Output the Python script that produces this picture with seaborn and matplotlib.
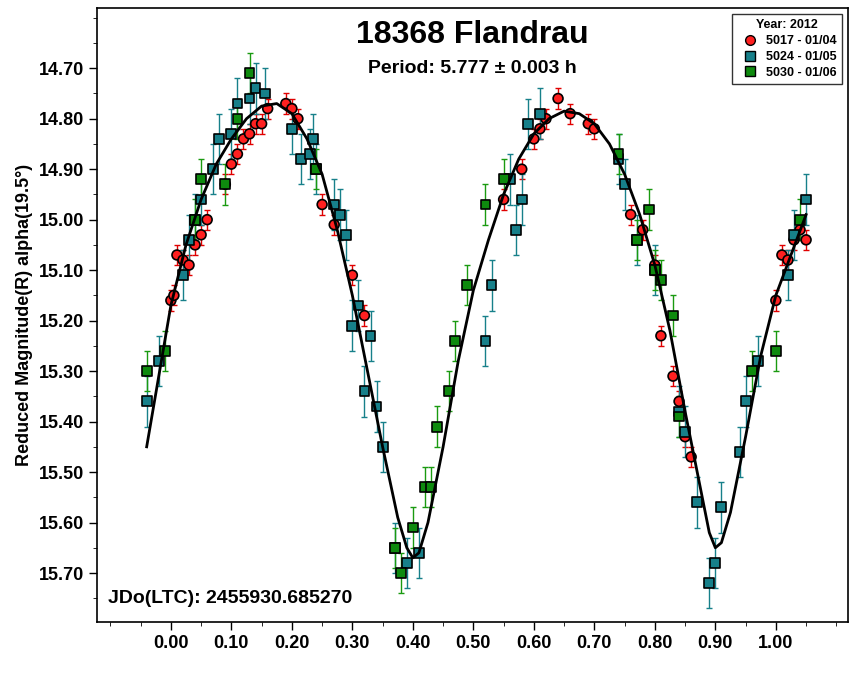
import numpy as np
import pandas as pd
import matplotlib
matplotlib.use("Agg")
import matplotlib.pyplot as plt
import seaborn as sns
from matplotlib.ticker import MultipleLocator
from matplotlib.lines import Line2D

fit_x = [-0.04,0.0,0.025,0.05,0.075,0.1,0.125,0.15,0.175,0.2,0.225,0.25,0.275,0.3,0.325,0.35,0.375,0.39,0.4,0.41,0.425,0.45,0.475,0.5,0.525,0.55,0.575,0.6,0.625,0.65,0.675,0.7,0.725,0.75,0.775,0.8,0.825,0.85,0.875,0.89,0.9,0.91,0.925,0.95,0.975,1.0,1.025,1.05]
fit_y = [15.45,15.17,15.05,14.96,14.89,14.84,14.80,14.775,14.77,14.79,14.84,14.91,15.02,15.15,15.30,15.45,15.59,15.65,15.67,15.66,15.60,15.45,15.28,15.14,15.04,14.95,14.88,14.83,14.80,14.785,14.79,14.81,14.85,14.91,14.99,15.09,15.22,15.38,15.53,15.62,15.65,15.64,15.58,15.43,15.27,15.15,15.07,14.99]

red_x = [0.0,0.005,0.01,0.02,0.03,0.04,0.05,0.06,0.09,0.1,0.11,0.12,0.13,0.14,0.15,0.16,0.19,0.2,0.21,0.25,0.27,0.3,0.32,0.55,0.58,0.6,0.61,0.62,0.64,0.66,0.69,0.7,0.76,0.78,0.8,0.81,0.83,0.84,0.85,0.86,1.0,1.01,1.02,1.03,1.04,1.05]
red_y = [15.16,15.15,15.07,15.08,15.09,15.05,15.03,15.0,14.93,14.89,14.87,14.84,14.83,14.81,14.81,14.78,14.77,14.78,14.8,14.97,15.01,15.11,15.19,14.96,14.9,14.84,14.82,14.8,14.76,14.79,14.81,14.82,14.99,15.02,15.09,15.23,15.31,15.36,15.43,15.47,15.16,15.07,15.08,15.04,15.02,15.04]
teal_x = [-0.04,-0.02,0.02,0.03,0.04,0.05,0.07,0.08,0.1,0.11,0.13,0.14,0.155,0.2,0.215,0.23,0.235,0.24,0.27,0.28,0.29,0.3,0.31,0.32,0.33,0.34,0.35,0.37,0.39,0.41,0.52,0.53,0.56,0.57,0.58,0.59,0.61,0.74,0.75,0.77,0.8,0.84,0.85,0.87,0.89,0.9,0.91,0.94,0.95,0.97,1.02,1.03,1.05]
teal_y = [15.36,15.28,15.11,15.04,15.0,14.96,14.9,14.84,14.83,14.77,14.76,14.74,14.75,14.82,14.88,14.87,14.84,14.9,14.97,14.99,15.03,15.21,15.17,15.34,15.23,15.37,15.45,15.65,15.68,15.66,15.24,15.13,14.92,15.02,14.96,14.81,14.79,14.88,14.93,15.04,15.1,15.38,15.42,15.56,15.72,15.68,15.57,15.46,15.36,15.28,15.11,15.03,14.96]
green_x = [-0.04,-0.01,0.04,0.05,0.09,0.11,0.13,0.24,0.37,0.38,0.4,0.42,0.43,0.44,0.46,0.47,0.49,0.52,0.55,0.74,0.77,0.79,0.8,0.81,0.83,0.84,0.96,1.0,1.04]
green_y = [15.3,15.26,15.0,14.92,14.93,14.8,14.71,14.9,15.65,15.7,15.61,15.53,15.53,15.41,15.34,15.24,15.13,14.97,14.92,14.87,15.04,14.98,15.1,15.12,15.19,15.39,15.3,15.26,15.0]
red_err, teal_err, green_err = 0.02, 0.05, 0.04
series_labels = ["5017 - 01/04", "5024 - 01/05", "5030 - 01/06"]

df = pd.concat([
    pd.DataFrame({"x": red_x, "y": red_y, "s": series_labels[0], "e": red_err}),
    pd.DataFrame({"x": teal_x, "y": teal_y, "s": series_labels[1], "e": teal_err}),
    pd.DataFrame({"x": green_x, "y": green_y, "s": series_labels[2], "e": green_err}),
])
colors = {series_labels[0]: "#ff2020", series_labels[1]: "#17808a", series_labels[2]: "#0e8a0e"}
errc = {series_labels[0]: "#e00000", series_labels[1]: "#17808a", series_labels[2]: "#1a9a10"}

plt.rcParams["font.family"] = "Liberation Sans"
plt.rcParams["font.weight"] = "bold"
fig = plt.figure(figsize=(8.59, 6.79), dpi=100)
ax = fig.add_axes([0.113, 0.084, 0.874, 0.904])

for s in series_labels:
    d = df[df.s == s]
    ax.errorbar(d.x, d.y, yerr=d.e, fmt="none", ecolor=errc[s], elinewidth=1, capsize=2, zorder=2)
sns.scatterplot(data=df, x="x", y="y", hue="s", style="s",
                markers={series_labels[0]: "o", series_labels[1]: "s", series_labels[2]: "s"},
                palette=colors, s=[50], edgecolor="black", linewidth=1.2, ax=ax, zorder=3, legend=False)
sns.lineplot(x=fit_x, y=fit_y, color="black", lw=2, ax=ax, zorder=4)

ax.set_xlim(-0.122, 1.119)
ax.set_ylim(15.797, 14.581)
ax.xaxis.set_minor_locator(MultipleLocator(0.05))
ax.yaxis.set_minor_locator(MultipleLocator(0.05))
ax.set_xticks(np.arange(0, 1.01, 0.1))
ax.set_xticklabels([f"{v:.2f}" for v in np.arange(0, 1.01, 0.1)])
ax.set_yticks(np.arange(14.7, 15.71, 0.1))
ax.set_yticklabels([f"{v:.2f}" for v in np.arange(14.7, 15.71, 0.1)])
ax.tick_params(labelsize=13, direction="out", length=6, width=1)
ax.tick_params(which="minor", direction="out", length=3)
for sp in ax.spines.values():
    sp.set_linewidth(1.2)
ax.set_xlabel("")
ax.set_ylabel("Reduced Magnitude(R) alpha(19.5°)", fontsize=13, fontweight="bold")

ax.text(0.5, 0.98, "18368 Flandrau", transform=ax.transAxes, ha="center", va="top", fontsize=23, fontweight="bold")
ax.text(0.5, 0.915, "Period: 5.777 ± 0.003 h", transform=ax.transAxes, ha="center", va="top", fontsize=14, fontweight="bold")
ax.text(0.015, 0.025, "JDo(LTC): 2455930.685270", transform=ax.transAxes, ha="left", va="bottom", fontsize=14, fontweight="bold")

handles = [Line2D([], [], marker="o", ls="", mfc=colors[series_labels[0]], mec="black", ms=7),
           Line2D([], [], marker="s", ls="", mfc=colors[series_labels[1]], mec="black", ms=7),
           Line2D([], [], marker="s", ls="", mfc=colors[series_labels[2]], mec="black", ms=7)]
leg = ax.legend(handles, series_labels, title="Year: 2012", loc="upper right", fontsize=9,
                title_fontproperties={"weight": "bold", "size": 9}, frameon=True, fancybox=False,
                edgecolor="black", handletextpad=0.3, borderpad=0.4, labelspacing=0.3)
leg.get_frame().set_linewidth(1.0)
fig.savefig("out.png", dpi=100)
